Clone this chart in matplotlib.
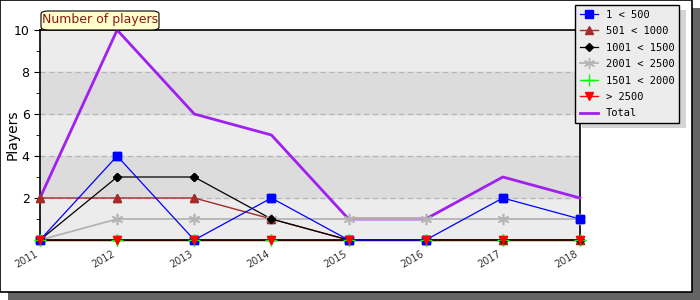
import matplotlib
matplotlib.use("Agg")
import matplotlib.pyplot as plt
from matplotlib.patches import Rectangle, FancyBboxPatch
from matplotlib.ticker import MultipleLocator

years = [2011, 2012, 2013, 2014, 2015, 2016, 2017, 2018]
lt500 = [0, 4, 0, 2, 0, 0, 2, 1]
r501_1000 = [2, 2, 2, 1, 0, 0, 0, 0]
r1001_1500 = [0, 3, 3, 1, 0, 0, 0, 0]
r2001_2500 = [0, 1, 1, 1, 1, 1, 1, 1]
r1501_2000 = [0, 0, 0, 0, 0, 0, 0, 0]
gt2500 = [0, 0, 0, 0, 0, 0, 0, 0]
total = [2, 10, 6, 5, 1, 1, 3, 2]

W, H = 700, 300
fig = plt.figure(figsize=(7, 3), dpi=100)
fig.patch.set_facecolor("white")

# drop shadow + border of the whole image
fig.patches.append(Rectangle((8 / W, 0), 692 / W, 292 / H, transform=fig.transFigure,
                             facecolor="#646464", edgecolor="none", zorder=-3))
fig.patches.append(Rectangle((0, 8 / H), 692 / W, 292 / H, transform=fig.transFigure,
                             facecolor="white", edgecolor="black", lw=1.2, zorder=-2))

ax = fig.add_axes([40 / W, 60 / H, 540 / W, 210 / H])
ax.set_facecolor("#ececec")
for lo in (2, 6):
    ax.axhspan(lo, lo + 2, color="#dcdcdc", zorder=0)
for yv in (2, 4, 6, 8):
    ax.axhline(yv, color="#b4b4b4", ls=(0, (4, 3)), lw=0.9, zorder=0.5)

series = [
    # values, label, color, lw, marker, ms, zorder
    (total, "Total", "#a020f0", 2, None, 0, 3),
    (r2001_2500, "2001 < 2500", "#b4b4b4", 1.3, (6, 2, 0), 8, 3),
    (r501_1000, "501 < 1000", "#a52a2a", 1, "^", 6, 4),
    (r1001_1500, "1001 < 1500", "black", 0.9, "D", 4, 4),
    (lt500, "1 < 500", "blue", 0.9, "s", 6, 5),
    (r1501_2000, "1501 < 2000", "#00ff00", 1, "+", 8, 2.2),
    (gt2500, "> 2500", "red", 1, "v", 6, 2.3),
]
handles = {}
for vals, lab, col, lw, mk, ms, z in series:
    h, = ax.plot(years, vals, color=col, lw=lw, marker=mk, ms=ms, label=lab, zorder=z)
    h.set_clip_on(False)
    handles[lab] = h
    if mk is not None:
        ax.plot(years, vals, color=col, lw=0, marker=mk, ms=ms, zorder=6, clip_on=False)

ax.set_xlim(2011, 2018)
ax.set_ylim(0, 10)
ax.set_xticks(years)
ax.set_xticklabels([str(y) for y in years], rotation=30, ha="right", fontsize=7, color="#333333")
ax.set_yticks([2, 4, 6, 8, 10])
ax.yaxis.set_minor_locator(MultipleLocator(1))
ax.tick_params(axis="y", labelsize=9, length=4)
ax.tick_params(axis="y", which="minor", length=3)
ax.tick_params(axis="x", length=3)
for s in ax.spines.values():
    s.set_linewidth(1.2)
ax.set_ylabel("Players", fontsize=10, va="center")
ax.yaxis.set_label_coords(-27 / 540, 0.5)

# title tab
fig.patches.append(FancyBboxPatch((41 / W, 270 / H), 118 / W, 19 / H, transform=fig.transFigure,
                                  boxstyle="round,pad=0,rounding_size=0.01",
                                  facecolor="#ffffcc", edgecolor="black", lw=0.8, zorder=2))
fig.text(100 / W, 280 / H, "Number of players", ha="center", va="center",
         fontsize=9, color="#8b1a1a")

order = ["1 < 500", "501 < 1000", "1001 < 1500", "2001 < 2500", "1501 < 2000", "> 2500", "Total"]
leg = fig.legend([handles[k] for k in order], order, loc="upper left",
                 bbox_to_anchor=(575 / W, 1 - 5 / H), prop={"family": "DejaVu Sans Mono", "size": 7.5},
                 frameon=True, fancybox=False, facecolor="#ececec", edgecolor="black",
                 handlelength=1.8, labelspacing=0.62, borderpad=0.45, handletextpad=0.7,
                 borderaxespad=0)
leg.get_frame().set_linewidth(1)
leg.get_frame().set_alpha(1)
leg.set_zorder(10)
fig.canvas.draw()
bb = leg.get_window_extent().transformed(fig.transFigure.inverted())
fig.patches.append(Rectangle((bb.x0 + 7 / W, bb.y0 - 5 / H), bb.width, bb.height,
                             transform=fig.transFigure, facecolor="#d4d4d4",
                             edgecolor="none", zorder=9))

fig.savefig("out.png", dpi=100)
